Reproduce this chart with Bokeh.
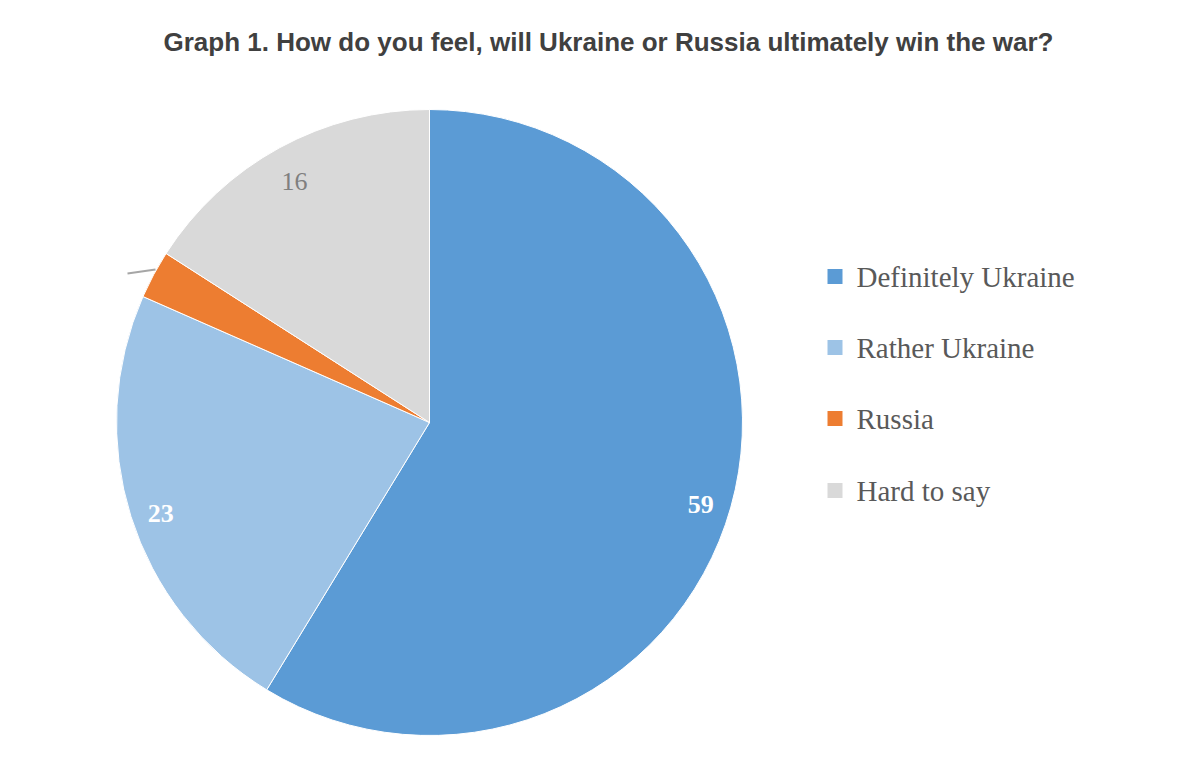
import math
from bokeh.plotting import figure
from bokeh.models import Range1d, ColumnDataSource
from bokeh.core.properties import value
from bokeh.embed import file_html
from bokeh.resources import INLINE

title = "Graph 1. How do you feel, will Ukraine or Russia ultimately win the war?"
categories = ["Definitely Ukraine", "Rather Ukraine", "Russia", "Hard to say"]
values = [59, 23, 2.5, 16]
labels = ["59", "23", "", "16"]
colors = ["#5B9BD5", "#9DC3E6", "#ED7D31", "#D9D9D9"]
label_colors = ["white", "white", "#7F7F7F", "#7F7F7F"]
label_styles = ["bold", "bold", "normal", "normal"]

W, H = 1184, 744
p = figure(width=W, height=H, output_backend="svg", toolbar_location=None,
           x_range=Range1d(0, W), y_range=Range1d(0, H), min_border=0)
p.axis.visible = False
p.grid.visible = False
p.outline_line_color = None
p.background_fill_color = "white"

def sy(y):
    return 744 - y

def sx(x):
    return x

cx, cy, R = sx(429), sy(422), 313
total = sum(values)
starts, ends, lx, ly = [], [], [], []
cum = 0.0
for v in values:
    a0 = math.pi / 2 - 2 * math.pi * cum / total
    cum += v
    a1 = math.pi / 2 - 2 * math.pi * cum / total
    starts.append(a1)
    ends.append(a0)
    mid = (a0 + a1) / 2
    lx.append(cx + 0.9 * R * math.cos(mid))
    ly.append(cy + 0.9 * R * math.sin(mid))

src = ColumnDataSource(dict(start=starts, end=ends, color=colors, cat=categories))
p.wedge(x=cx, y=cy, radius=R, start_angle="start", end_angle="end",
        fill_color="color", line_color="white", line_width=1, source=src)

# leader line for the Russia slice (label cut off in the original)
p.line(x=[sx(127), sx(155)], y=[sy(273), sy(269)], line_color="#A6A6A6", line_width=2)

for i in range(len(values)):
    if labels[i]:
        p.text(x=[lx[i]], y=[ly[i] - 6], text=[labels[i]], text_align="center",
               text_baseline="middle", text_font=value("Liberation Serif"),
               text_font_size="26px", text_font_style=label_styles[i],
               text_color=label_colors[i])

# title
p.text(x=[sx(608)], y=[sy(41)], text=[title], text_align="center",
       text_baseline="middle", text_font=value("Liberation Sans"),
       text_font_size="26px", text_font_style="bold", text_color="#404040")

# legend
leg_y = [276, 347, 418, 490]
for i, c in enumerate(categories):
    p.rect(x=[sx(834.5)], y=[sy(leg_y[i])], width=15, height=15,
           fill_color=colors[i], line_color=None)
    p.text(x=[sx(856)], y=[sy(leg_y[i])], text=[c], text_align="left",
           text_baseline="middle", text_font=value("Liberation Serif"),
           text_font_size="29px", text_color="#595959")

open("out.html", "w").write(file_html(p, INLINE))
